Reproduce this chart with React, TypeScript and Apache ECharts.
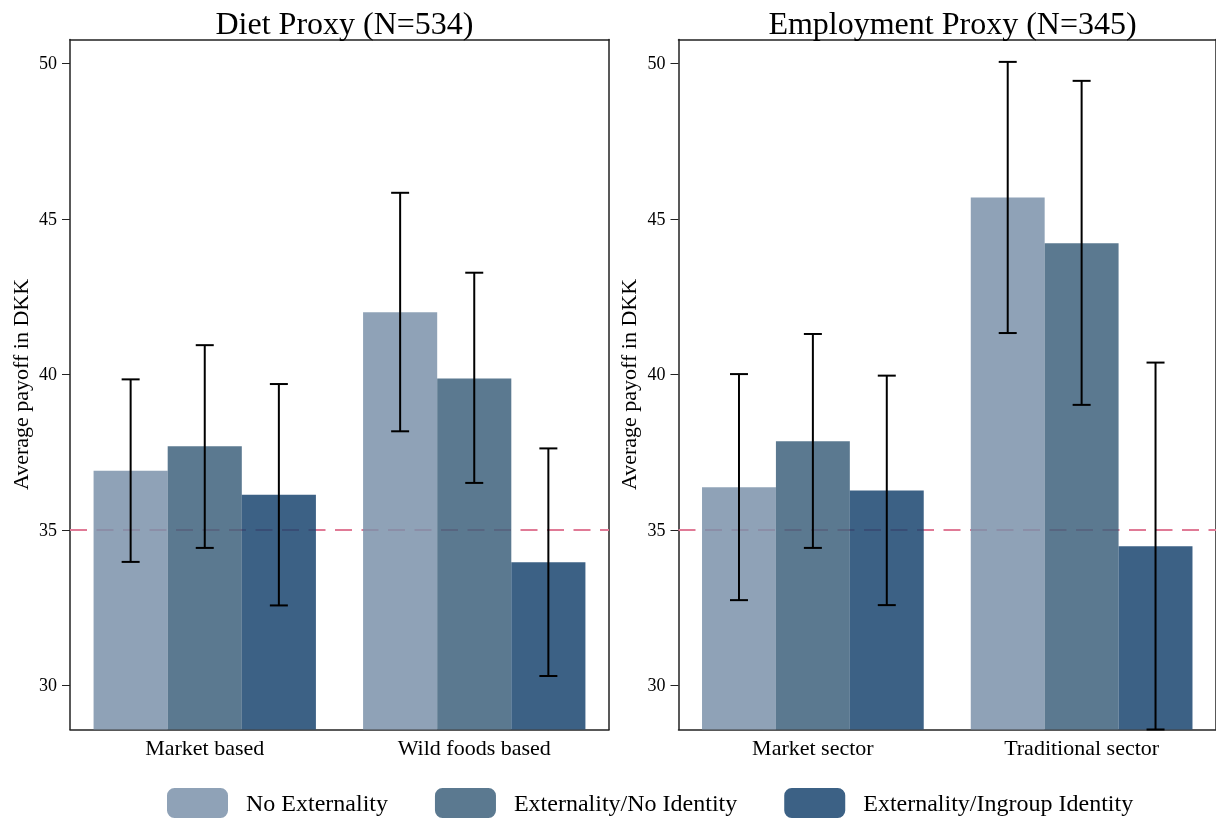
import React, { useEffect, useRef } from "react";
import * as echarts from "echarts";

const dietCategories = ["Market based", "Wild foods based"];
const employmentCategories = ["Market sector", "Traditional sector"];
const seriesNames = ["No Externality", "Externality/No Identity", "Externality/Ingroup Identity"];
const panelTitles = ["Diet Proxy (N=534)", "Employment Proxy (N=345)"];
const yAxisTitle = "Average payoff in DKK";
const yTicks = [30, 35, 40, 45, 50];
const referenceValue = 35;

// Diet proxy means, per category
const dietNoExt = [36.9, 42.0];
const dietExtNoId = [37.69, 39.87];
const dietIngroup = [36.13, 33.96];
// Diet proxy 95% CI [low, high]
const dietNoExtCI = [[33.97, 39.84], [38.17, 45.84]];
const dietExtNoIdCI = [[34.42, 40.94], [36.51, 43.27]];
const dietIngroupCI = [[32.57, 39.69], [30.3, 37.62]];

// Employment proxy means
const empNoExt = [36.37, 45.69];
const empExtNoId = [37.85, 44.22];
const empIngroup = [36.27, 34.47];
// Employment proxy CI
const empNoExtCI = [[32.74, 40.01], [41.33, 50.05]];
const empExtNoIdCI = [[34.42, 41.3], [39.02, 49.44]];
const empIngroupCI = [[32.58, 39.96], [28.58, 40.38]];

const yMin = 28.58;
const yMax = 50.77;

const FONT = "serif";
const barColors = ["rgba(123,146,170,0.85)", "rgba(62,98,124,0.85)", "rgba(26,69,112,0.85)"];
const BAR_RATIO = 0.275;
const frameLine = { show: true, lineStyle: { color: "#222", width: 1.5 } };

function ciData(cis: number[][][]) {
  const out: number[][] = [];
  cis.forEach((ci, s) => {
    ci.forEach((pair, c) => {
      out.push([c, s, pair[0], pair[1]]);
    });
  });
  return out;
}

function makeErrorSeries(name: string, axisIndex: number, data: number[][]) {
  return {
    type: "custom",
    name,
    xAxisIndex: axisIndex,
    yAxisIndex: axisIndex,
    z: 5,
    encode: { x: 0, y: [2, 3] },
    data,
    renderItem: (params: any, api: any) => {
      const cat = api.value(0);
      const s = api.value(1);
      const lo = api.value(2);
      const hi = api.value(3);
      const band = api.size([1, 0])[0];
      const bw = band * BAR_RATIO;
      const pLo = api.coord([cat, lo]);
      const pHi = api.coord([cat, hi]);
      const x = pLo[0] + (s - 1) * bw;
      const half = 9;
      const style = { stroke: "#000", lineWidth: 2 };
      return {
        type: "group",
        children: [
          { type: "line", shape: { x1: x, y1: pLo[1], x2: x, y2: pHi[1] }, style },
          { type: "line", shape: { x1: x - half, y1: pLo[1], x2: x + half, y2: pLo[1] }, style },
          { type: "line", shape: { x1: x - half, y1: pHi[1], x2: x + half, y2: pHi[1] }, style },
        ],
      };
    },
  };
}

function makeBars(axisIndex: number, values: number[][]) {
  return values.map((v, i) => ({
    type: "bar",
    name: seriesNames[i],
    xAxisIndex: axisIndex,
    yAxisIndex: axisIndex,
    data: v,
    barWidth: BAR_RATIO * 100 + "%",
    barGap: "0%",
    itemStyle: { color: barColors[i] },
    ...(i === 0
      ? {
          markLine: {
            symbol: "none",
            z: 1,
            label: { show: false },
            lineStyle: { color: "#e07a96", type: [17, 9.5], width: 2 },
            data: [{ yAxis: referenceValue }],
          },
        }
      : {}),
  }));
}

function yAxisFor(gridIndex: number) {
  return {
    type: "value",
    gridIndex,
    min: yMin,
    max: yMax,
    name: yAxisTitle,
    nameLocation: "middle",
    nameGap: 39,
    nameTextStyle: { fontFamily: FONT, fontSize: 22, color: "#000" },
    splitLine: { show: false },
    axisLine: frameLine,
    axisTick: { show: true, length: 8, customValues: yTicks, lineStyle: { color: "#222" } },
    axisLabel: { customValues: yTicks, margin: 13, fontFamily: FONT, fontSize: 18, color: "#000" },
  };
}

function yFrameFor(gridIndex: number) {
  return {
    type: "value",
    gridIndex,
    position: "right",
    min: yMin,
    max: yMax,
    splitLine: { show: false },
    axisLine: frameLine,
    axisTick: { show: false },
    axisLabel: { show: false },
  };
}

function xAxisFor(gridIndex: number, data: string[]) {
  return {
    type: "category",
    gridIndex,
    data,
    axisTick: { show: false },
    axisLine: frameLine,
    axisLabel: { margin: 7, fontFamily: FONT, fontSize: 22, color: "#000" },
  };
}

function xFrameFor(gridIndex: number, data: string[]) {
  return {
    type: "category",
    gridIndex,
    position: "top",
    data,
    axisTick: { show: false },
    axisLine: frameLine,
    axisLabel: { show: false },
  };
}

export default function App() {
  const ref = useRef<HTMLDivElement>(null);
  useEffect(() => {
    if (!ref.current) return;
    const chart = echarts.init(ref.current, null, { renderer: "svg" });
    const option = {
      animation: false,
      title: [
        {
          text: panelTitles[0], left: 339.5, textAlign: "center", top: 2,
          textStyle: { fontFamily: FONT, fontSize: 32, fontWeight: "normal", color: "#000" },
        },
        {
          text: panelTitles[1], left: 947.5, textAlign: "center", top: 2,
          textStyle: { fontFamily: FONT, fontSize: 32, fontWeight: "normal", color: "#000" },
        },
      ],
      legend: {
        data: seriesNames,
        left: 162,
        top: 783,
        itemWidth: 61,
        itemHeight: 30,
        itemGap: 47,
        itemStyle: { borderRadius: 0 },
        textStyle: { fontFamily: FONT, fontSize: 24, color: "#000", padding: [0, 0, 0, 13] },
      },
      grid: [
        { left: 70, top: 39.5, width: 539, height: 690 },
        { left: 678.5, top: 39.5, width: 541, height: 690 },
      ],
      xAxis: [
        xAxisFor(0, dietCategories),
        xAxisFor(1, employmentCategories),
        xFrameFor(0, dietCategories),
        xFrameFor(1, employmentCategories),
      ],
      yAxis: [yAxisFor(0), yAxisFor(1), yFrameFor(0), yFrameFor(1)],
      series: [
        ...makeBars(0, [dietNoExt, dietExtNoId, dietIngroup]),
        ...makeBars(1, [empNoExt, empExtNoId, empIngroup]),
        makeErrorSeries("ci-diet", 0, ciData([dietNoExtCI, dietExtNoIdCI, dietIngroupCI])),
        makeErrorSeries("ci-emp", 1, ciData([empNoExtCI, empExtNoIdCI, empIngroupCI])),
      ],
    };
    chart.setOption(option as any);
    return () => chart.dispose();
  }, []);
  return <div ref={ref} style={{ position: "fixed", left: 0, top: 0, width: 1216, height: 821 }} />;
}
